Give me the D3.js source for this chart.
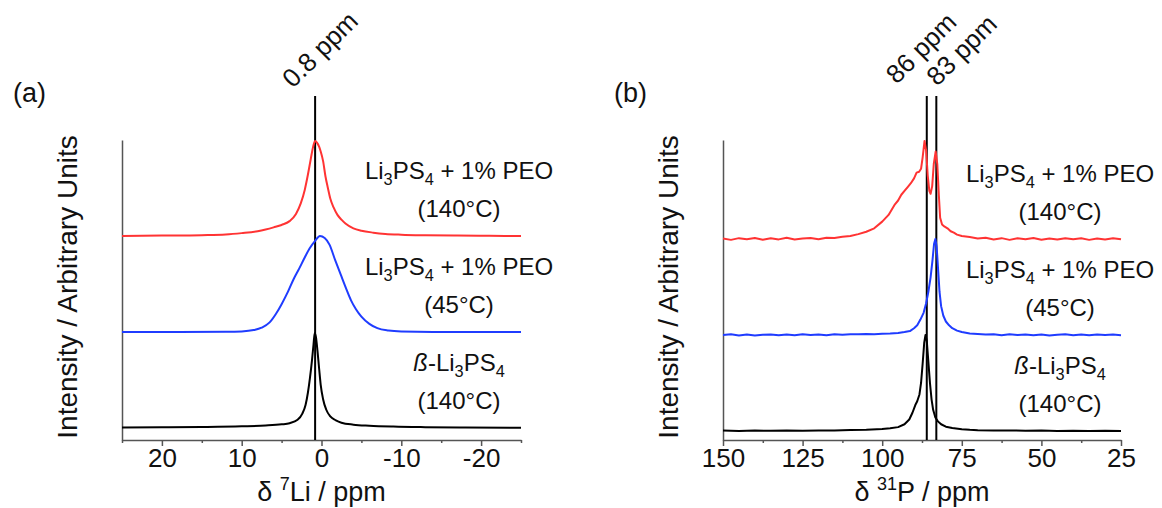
<!DOCTYPE html>
<html>
<head>
    <title>7Li and 31P NMR spectra</title>
    <script src="https://d3js.org/d3.v7.min.js"></script>
    <style>
        body { margin: 0; background: #fff; }
        text { font-family: "Liberation Sans", Arial, sans-serif; fill: #111; }
    </style>
</head>
<body>
    <div id="chart"></div>

    <script>
        // ---- data: [ppm, normalised intensity] ----
        // (a) 7Li spectra
        const liRed = [[25,0],[20,0.004],[15,0.009],[12,0.016],[10,0.03],[8,0.05],[7,0.068],[6,0.09],[5,0.115],[4,0.155],[3.2,0.23],[2.6,0.34],[2.1,0.48],[1.7,0.64],[1.35,0.8],[1.05,0.93],[0.8,0.99],[0.55,0.97],[0.3,0.93],[0.1,0.88],[-0.2,0.78],[-0.5,0.62],[-0.8,0.5],[-1.1,0.39],[-1.5,0.3],[-2,0.22],[-2.5,0.17],[-3,0.13],[-4,0.08],[-5,0.055],[-6.5,0.035],[-8,0.022],[-10,0.014],[-13,0.008],[-17,0.004],[-21,0.002],[-25,0]];
        const liBlue = [[25,0],[18,0],[12,0.002],[10,0.006],[8.5,0.02],[7.5,0.045],[6.5,0.1],[5.7,0.19],[5,0.29],[4.2,0.42],[3.5,0.55],[2.8,0.66],[2.2,0.76],[1.5,0.87],[0.8,0.95],[0.2,1.0],[-0.4,0.98],[-1,0.91],[-1.75,0.74],[-2.4,0.6],[-3.1,0.45],[-3.7,0.33],[-4.3,0.24],[-5,0.16],[-6,0.085],[-7,0.04],[-8.4,0.015],[-10,0.005],[-14,0],[-25,0]];
        const liBlack = [[25,0.004],[20,0.007],[15,0.011],[10,0.018],[7,0.026],[5,0.038],[4,0.05],[3,0.085],[2.4,0.15],[2,0.24],[1.7,0.37],[1.45,0.52],[1.2,0.7],[1.0,0.87],[0.85,0.99],[0.7,0.95],[0.5,0.8],[0.3,0.62],[0.1,0.45],[-0.2,0.3],[-0.6,0.19],[-1.1,0.12],[-1.8,0.08],[-2.5,0.055],[-4,0.035],[-6,0.024],[-9,0.015],[-13,0.009],[-18,0.005],[-25,0.002]];

        // (b) 31P spectra
        const pRed = [[150,0.005],[147.5,-0.01],[145,0.008],[142.5,-0.004],[140,0.01],[137.5,-0.008],[135,0.006],[132.5,-0.005],[130,0.012],[127.5,-0.006],[125,0.004],[122.5,0.01],[120,-0.004],[117.5,0.012],[115,0.01],[112.5,0.022],[110,0.03],[107.5,0.05],[105,0.075],[102.5,0.11],[100,0.18],[98,0.25],[96,0.36],[95,0.4],[94,0.46],[93,0.5],[92,0.54],[91,0.58],[90,0.63],[89.2,0.69],[88.4,0.7],[87.8,0.73],[87.3,0.85],[86.7,1.02],[86.2,0.92],[85.7,0.66],[85.2,0.5],[84.8,0.47],[84.3,0.55],[83.8,0.78],[83.2,0.91],[82.7,0.78],[82.2,0.45],[81.8,0.22],[81.2,0.15],[80.5,0.13],[79.5,0.11],[78.5,0.08],[77.5,0.065],[76.5,0.045],[75,0.03],[72.5,0.02],[70,0.005],[67.5,0.012],[65,-0.006],[62.5,0.008],[60,-0.01],[57.5,0.006],[55,-0.004],[52.5,0.01],[50,-0.008],[47.5,0.004],[45,-0.006],[42.5,0.008],[40,-0.004],[37.5,0.006],[35,-0.01],[32.5,0.005],[30,-0.006],[27.5,0.008],[25,-0.004]];
        const pBlue = [[150,0],[147.5,0.006],[145,-0.005],[142.5,0.004],[140,-0.006],[137.5,0.003],[135,0.005],[132.5,-0.004],[130,0.004],[127.5,-0.003],[125,0.006],[122.5,0],[120,0.005],[117.5,-0.004],[115,0.006],[112.5,0.003],[110,0.008],[107.5,0.006],[105,0.01],[102.5,0.008],[100,0.012],[97.5,0.015],[95,0.02],[93,0.03],[91.3,0.04],[90,0.07],[89,0.1],[88,0.16],[87,0.23],[86.2,0.33],[85.5,0.45],[84.8,0.6],[84.2,0.78],[83.7,0.95],[83.3,1.0],[82.9,0.92],[82.4,0.66],[82,0.45],[81.5,0.3],[80.8,0.2],[80,0.14],[79,0.1],[78,0.07],[76.5,0.045],[75,0.03],[72.5,0.015],[70,0.01],[67.5,0.004],[65,0.008],[62.5,-0.003],[60,0.006],[57.5,0],[55,0.005],[52.5,-0.004],[50,0.004],[47.5,-0.006],[45,0.003],[42.5,0.006],[40,-0.003],[37.5,0.004],[35,-0.004],[32.5,0.005],[30,0],[27.5,0.004],[25,-0.003]];
        const pBlack = [[150,0.004],[145,0],[140,0.004],[135,0.002],[130,0.005],[125,0.003],[120,0.006],[115,0.006],[110,0.01],[105,0.013],[100,0.02],[97.5,0.028],[95,0.04],[93,0.07],[91.5,0.12],[90.5,0.19],[89.6,0.27],[89,0.31],[88.3,0.38],[87.8,0.5],[87.3,0.7],[86.8,0.92],[86.4,1.0],[86,0.94],[85.5,0.72],[85,0.5],[84.5,0.33],[84,0.22],[83.3,0.14],[82.5,0.1],[81.5,0.07],[80,0.045],[78,0.03],[75,0.018],[72.5,0.012],[70,0.008],[65,0.004],[60,0.006],[55,0.002],[50,0.004],[45,0],[40,0.003],[35,0.001],[30,0.003],[25,0]];

        // stacking offsets (top to bottom) and colours
        const offsets = [2, 1, 0];
        const colors = ["#ff3333", "#1f3cff", "#000000"];

        // labels ("_" marks a subscript character)
        const sampleLabels = [
            ["Li_3PS_4 + 1% PEO", "(140°C)"],
            ["Li_3PS_4 + 1% PEO", "(45°C)"],
            ["ß-Li_3PS_4", "(140°C)"]
        ];

        // axes
        const liDomain = [25, -25];
        const liTicks = [20, 10, 0, -10, -20];
        const liMinor = [25, 15, 5, -5, -15, -25];
        const pDomain = [150, 25];
        const pTicks = [150, 125, 100, 75, 50, 25];
        const pMinor = [137.5, 112.5, 87.5, 62.5, 37.5];

        // reference lines
        const liLines = [0.8];
        const liLineLabels = ["0.8 ppm"];
        const pLines = [86, 83];
        const pLineLabels = ["86 ppm", "83 ppm"];

        const svg = d3.select("#chart")
            .append("svg")
            .attr("width", 1162)
            .attr("height", 508);

        // text with subscripts; the baseline shift is carried to the next tspan
        function addLabel(g, str, x, y, size) {
            const t = g.append("text")
                .attr("x", x).attr("y", y)
                .attr("text-anchor", "middle")
                .style("font-size", size + "px");
            let back = 0;
            str.split(/(_\d)/).forEach(p => {
                if (!p) return;
                if (p[0] === "_") {
                    t.append("tspan").attr("dy", 6).style("font-size", (size * 0.68) + "px").text(p[1]);
                    back = -6;
                    return;
                }
                if (p[0] === "ß") {
                    t.append("tspan").attr("dy", back).style("font-style", "italic").text("ß");
                    back = 0;
                    p = p.slice(1);
                }
                t.append("tspan").attr("dy", back).text(p);
                back = 0;
            });
        }

        function drawPanel(o) {
            const g = svg.append("g");

            const x = d3.scaleLinear().domain(o.domain).range(o.xRange);
            const y = d3.scaleLinear().domain(o.yDomain).range([440, 140]);

            // x axis with major and minor ticks
            const ax = g.append("g")
                .attr("transform", "translate(0,440)")
                .call(d3.axisBottom(x).tickValues(o.ticks).tickSize(6).tickPadding(3).tickSizeOuter(0));
            ax.select(".domain").attr("stroke", "#555").attr("stroke-width", 1.5);
            ax.selectAll(".tick line").attr("stroke", "#555").attr("stroke-width", 1.5);
            ax.selectAll(".tick text")
                .style("font-size", "26px")
                .style("font-family", '"Liberation Sans", Arial, sans-serif')
                .attr("fill", "#111")
                .text(d => d < 0 ? "-" + Math.abs(d) : d);
            const mx = g.append("g")
                .attr("transform", "translate(0,440)")
                .call(d3.axisBottom(x).tickValues(o.minor).tickSize(3).tickFormat(""));
            mx.select(".domain").remove();
            mx.selectAll(".tick line").attr("stroke", "#555").attr("stroke-width", 1.5);

            // y axis line only
            const ay = g.append("g")
                .attr("transform", `translate(${o.xRange[0]},0)`)
                .call(d3.axisLeft(y).tickValues([]).tickSizeOuter(0));
            ay.select(".domain").attr("stroke", "#555").attr("stroke-width", 1.5);

            // reference lines
            o.lines.forEach((v, i) => {
                g.append("line")
                    .attr("x1", x(v)).attr("x2", x(v))
                    .attr("y1", 96).attr("y2", 440)
                    .attr("stroke", "#000").attr("stroke-width", 2);
                const lx = x(v) + o.lineLabelDx[i], ly = o.lineLabelY[i];
                g.append("text")
                    .attr("transform", `translate(${lx},${ly}) rotate(-45)`)
                    .style("font-size", "26px")
                    .text(o.lineLabels[i]);
            });

            // spectra
            const line = d3.line()
                .x(d => x(d[0]))
                .curve(o.curve);
            o.series.forEach((s, i) => {
                line.y(d => y(d[1] + offsets[i]));
                g.append("path")
                    .datum(s)
                    .attr("fill", "none")
                    .attr("stroke", colors[i])
                    .attr("stroke-width", 2)
                    .attr("stroke-linejoin", "round")
                    .attr("d", line);
            });

            // sample labels
            sampleLabels.forEach((lab, i) => {
                const base = y(offsets[i]);
                addLabel(g, lab[0], o.labelX, base - 57, 24);
                addLabel(g, lab[1], o.labelX, base - 19, 24);
            });

            // axis titles
            const xt = g.append("text")
                .attr("x", (o.xRange[0] + o.xRange[1]) / 2)
                .attr("y", 501)
                .attr("text-anchor", "middle")
                .style("font-size", "27px");
            xt.append("tspan").text("δ ");
            xt.append("tspan").attr("dy", -11).style("font-size", "18px").text(o.nucleus[0]);
            xt.append("tspan").attr("dy", 11).text(o.nucleus[1] + " / ppm");

            g.append("text")
                .attr("transform", `translate(${o.xRange[0] - 45},287) rotate(-90)`)
                .attr("text-anchor", "middle")
                .style("font-size", "28px")
                .text("Intensity / Arbitrary Units");

            g.append("text")
                .attr("x", o.xRange[0] - 109)
                .attr("y", 102)
                .style("font-size", "27px")
                .text(o.tag);
        }

        drawPanel({
            tag: "(a)",
            domain: liDomain, xRange: [122, 521],
            yDomain: [-0.125, 3.0],
            ticks: liTicks, minor: liMinor,
            series: [liRed, liBlue, liBlack],
            curve: d3.curveMonotoneX,
            lines: liLines, lineLabels: liLineLabels,
            lineLabelDx: [-22], lineLabelY: [89],
            labelX: 459,
            nucleus: ["7", "Li"]
        });

        drawPanel({
            tag: "(b)",
            domain: pDomain, xRange: [723, 1121],
            yDomain: [-0.094, 3.03],
            ticks: pTicks, minor: pMinor,
            series: [pRed, pBlue, pBlack],
            curve: d3.curveLinear,
            lines: pLines, lineLabels: pLineLabels,
            lineLabelDx: [-30, 1], lineLabelY: [85, 87],
            labelX: 1060,
            nucleus: ["31", "P"]
        });
    </script>
</body>
</html>
